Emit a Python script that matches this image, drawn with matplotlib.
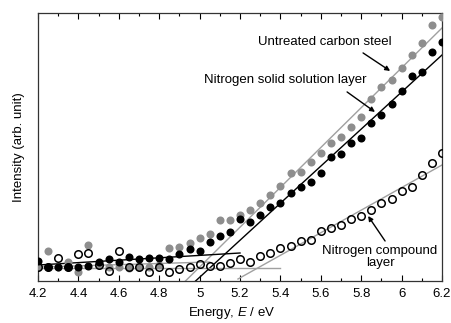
import numpy as np
import matplotlib.pyplot as plt
from matplotlib.ticker import MultipleLocator, FormatStrFormatter

plt.rcParams['font.family'] = ['Liberation Sans', 'DejaVu Sans']
plt.rcParams['mathtext.fontset'] = 'custom'
plt.rcParams['mathtext.it'] = 'Liberation Sans:italic'

# 光子能量 (eV)
energy = [4.2, 4.25, 4.3, 4.35, 4.4, 4.45, 4.5, 4.55, 4.6, 4.65, 4.7, 4.75, 4.8, 4.85,
          4.9, 4.95, 5.0, 5.05, 5.1, 5.15, 5.2, 5.25, 5.3, 5.35, 5.4, 5.45, 5.5, 5.55,
          5.6, 5.65, 5.7, 5.75, 5.8, 5.85, 5.9, 5.95, 6.0, 6.05, 6.1, 6.15, 6.2]

# 强度 (任意单位)
untreated = [14, 30, 14, 19, 9, 36, 16, 14, 14, 13, 14, 14, 16, 33,
             34, 38, 43, 47, 61, 61, 66, 71, 78, 86, 95, 108, 109, 119,
             128, 138, 144, 154, 164, 182, 194, 201, 213, 226, 238, 256, 264]
solid_solution = [20, 14, 14, 14, 14, 15, 19, 22, 19, 24, 22, 23, 23, 22,
                  27, 32, 30, 39, 45, 49, 62, 59, 66, 74, 78, 88, 94, 99,
                  108, 124, 127, 138, 143, 158, 166, 177, 190, 205, 209, 229, 239]
compound = [14, 14, 23, 14, 27, 28, 16, 10, 30, 14, 14, 9, 14, 9,
            12, 14, 17, 15, 15, 18, 22, 19, 25, 28, 33, 35, 40, 41,
            50, 53, 56, 62, 65, 71, 78, 82, 90, 94, 106, 118, 128]

# 拟合直线 (端点)
fit_untreated_x = [4.93, 6.2]
fit_untreated_y = [0, 253]
base_untreated_x = [4.2, 5.05]
base_untreated_y = [14, 19]
fit_solid_x = [4.98, 6.2]
fit_solid_y = [0, 226]
base_solid_x = [4.2, 5.2]
base_solid_y = [16, 28]
fit_compound_x = [5.19, 6.2]
fit_compound_y = [2, 116]
base_compound_x = [4.2, 5.4]
base_compound_y = [13, 13]

gray = '#8e8e8e'
lgray = '#a0a0a0'

fig = plt.figure(figsize=(4.52, 3.23), dpi=100)
ax = fig.add_axes([0.084, 0.130, 0.894, 0.830])

ax.plot(fit_untreated_x, fit_untreated_y, color=lgray, lw=1.0, zorder=2)
ax.plot(base_untreated_x, base_untreated_y, color=lgray, lw=1.0, zorder=2)
ax.plot(fit_solid_x, fit_solid_y, color='black', lw=1.0, zorder=2)
ax.plot(base_solid_x, base_solid_y, color='black', lw=1.0, zorder=2)
ax.plot(fit_compound_x, fit_compound_y, color=lgray, lw=1.0, zorder=2)
ax.plot(base_compound_x, base_compound_y, color=lgray, lw=1.0, zorder=2)

ax.plot(energy, untreated, 'o', color=gray, ms=5.8, mec='none', zorder=3)
ax.plot(energy, solid_solution, 'o', color='black', ms=5.8, mec='none', zorder=4)
ax.plot(energy, compound, 'o', mfc='none', mec='black', mew=1.1, ms=5.4, zorder=5)

ax.set_xlim(4.2, 6.2)
ax.set_ylim(0, 268)
ax.xaxis.set_major_locator(MultipleLocator(0.2))
ax.xaxis.set_minor_locator(MultipleLocator(0.1))
ax.xaxis.set_major_formatter(FormatStrFormatter('%g'))
ax.tick_params(axis='x', which='both', direction='in', top=True, labelsize=9.5, pad=5)
ax.tick_params(axis='x', which='major', length=4.5, width=0.8)
ax.tick_params(axis='x', which='minor', length=2.5, width=0.8)
ax.set_yticks([])
for s in ax.spines.values():
    s.set_linewidth(0.9)
    s.set_color('#333333')

ax.set_xlabel('Energy, $E$ / eV', fontsize=9.5)
ax.xaxis.set_label_coords(0.48, -0.088)
ax.set_ylabel('Intensity (arb. unit)', fontsize=9.5, labelpad=9)

arrow = dict(arrowstyle='-|>', color='black', lw=1.0, mutation_scale=7, shrinkA=0, shrinkB=0)
ax.text(5.62, 239, 'Untreated carbon steel', fontsize=9.5, ha='center', va='center')
ax.annotate('', xy=(5.943, 210), xytext=(5.809, 228), arrowprops=arrow)
ax.text(5.423, 201, 'Nitrogen solid solution layer', fontsize=9.5, ha='center', va='center')
ax.annotate('', xy=(5.868, 169), xytext=(5.730, 189), arrowprops=arrow)
ax.text(5.893, 24, 'Nitrogen compound\nlayer', fontsize=9.5, ha='center', va='center',
        linespacing=1.1)
ax.annotate('', xy=(5.834, 65), xytext=(5.918, 40), arrowprops=arrow)

fig.savefig('out.png', dpi=100)
